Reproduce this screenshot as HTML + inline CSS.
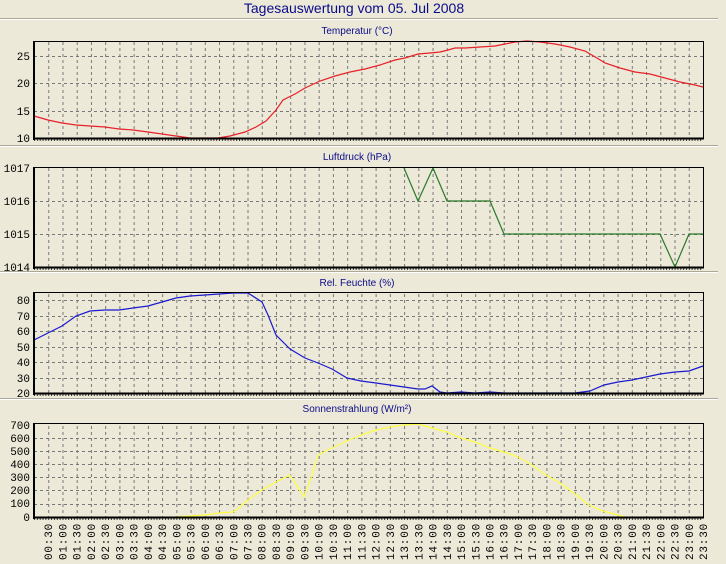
<!DOCTYPE html>
<html><head><meta charset="utf-8"><style>
html,body{margin:0;padding:0;background:#ece9d8;}
svg{display:block;}
.t{font-family:"Liberation Sans",sans-serif;fill:#0a0a8a;}
.y{font-family:"Liberation Mono",monospace;font-size:11px;fill:#000;text-anchor:end;}
.x{font-family:"Liberation Mono",monospace;font-size:11px;fill:#000;text-anchor:end;letter-spacing:0.8px;}
</style></head><body>
<svg width="726" height="564" xmlns="http://www.w3.org/2000/svg">
<defs>
<pattern id="vg" patternUnits="userSpaceOnUse" x="34" y="0" width="14.234" height="6">
<line x1="0.5" y1="0" x2="0.5" y2="3" stroke="#777" stroke-width="1"/>
</pattern>
<pattern id="tk" patternUnits="userSpaceOnUse" x="34" y="0" width="2.847" height="10">
<line x1="0.5" y1="0" x2="0.5" y2="10" stroke="#333" stroke-width="1"/>
</pattern>
</defs>
<rect width="726" height="564" fill="#ece9d8"/>
<text x="354" y="13" text-anchor="middle" class="t" font-size="14" fill="#1a1aa0">Tagesauswertung vom 05. Jul 2008</text>
<g stroke="#aca899"><line x1="0" y1="18.5" x2="718" y2="18.5"/><line x1="0" y1="145.5" x2="718" y2="145.5"/><line x1="0" y1="271.5" x2="718" y2="271.5"/><line x1="0" y1="398.5" x2="718" y2="398.5"/></g>
<g stroke="#fff"><line x1="0" y1="19.5" x2="718" y2="19.5"/><line x1="0" y1="146.5" x2="718" y2="146.5"/><line x1="0" y1="272.5" x2="718" y2="272.5"/><line x1="0" y1="399.5" x2="718" y2="399.5"/></g>

<!-- Panel 1 -->
<text x="357" y="34" text-anchor="middle" class="t" font-size="10">Temperatur (°C)</text>
<rect x="34" y="42" width="669" height="96" fill="url(#vg)"/>
<g stroke="#777" stroke-dasharray="3,3"><line x1="34" y1="56.5" x2="703" y2="56.5"/><line x1="34" y1="83.5" x2="703" y2="83.5"/><line x1="34" y1="111.5" x2="703" y2="111.5"/></g>
<rect x="34" y="139" width="669" height="2" fill="url(#tk)"/>
<polyline fill="none" stroke="#e8202a" stroke-width="1.2" points="34,116 48,120 62,123 76,125 90,126 105,127 119,129 133,130 148,132 162,134 176,136 190,138 218,138 230,136 245,132 256,127 266,121 276,110 283,100 295,94 305,88 320,81 335,76 350,72 365,69 380,65 395,60 405,58 418,54 430,53 440,52 448,50 455,48 465,48 480,47 495,46 505,44 515,42 527,41 540,42 555,44 570,47 585,51 597,58 605,63 620,68 635,72 650,74 665,78 680,82 695,85 703,87"/>
<rect x="34.5" y="41.5" width="669" height="97" fill="none" stroke="#000" stroke-width="1"/>
<line x1="33" y1="138.5" x2="704" y2="138.5" stroke="#000" stroke-width="2"/>
<line x1="34" y1="41" x2="34" y2="140" stroke="#000" stroke-width="2"/>
<text class="y" x="30" y="60">25</text><text class="y" x="30" y="87">20</text><text class="y" x="30" y="115">15</text><text class="y" x="30" y="142">10</text>

<!-- Panel 2 -->
<text x="357" y="160" text-anchor="middle" class="t" font-size="10">Luftdruck (hPa)</text>
<rect x="34" y="168" width="669" height="99" fill="url(#vg)"/>
<g stroke="#777" stroke-dasharray="3,3"><line x1="34" y1="201.5" x2="703" y2="201.5"/><line x1="34" y1="234.5" x2="703" y2="234.5"/></g>
<rect x="34" y="268" width="669" height="2" fill="url(#tk)"/>
<polyline fill="none" stroke="#2a7a2a" stroke-width="1.2" points="404,168 418,201 433,168 447,201 490,201 504,234 660,234 675,267 689,234 703,234"/>
<rect x="34.5" y="167.5" width="669" height="100" fill="none" stroke="#000" stroke-width="1"/>
<line x1="33" y1="267.5" x2="704" y2="267.5" stroke="#000" stroke-width="2"/>
<line x1="34" y1="167" x2="34" y2="269" stroke="#000" stroke-width="2"/>
<text class="y" x="30" y="172">1017</text><text class="y" x="30" y="205">1016</text><text class="y" x="30" y="238">1015</text><text class="y" x="30" y="271">1014</text>

<!-- Panel 3 -->
<text x="357" y="286" text-anchor="middle" class="t" font-size="10">Rel. Feuchte (%)</text>
<rect x="34" y="293" width="669" height="100" fill="url(#vg)"/>
<g stroke="#777" stroke-dasharray="3,3"><line x1="34" y1="300.5" x2="703" y2="300.5"/><line x1="34" y1="316.5" x2="703" y2="316.5"/><line x1="34" y1="331.5" x2="703" y2="331.5"/><line x1="34" y1="347.5" x2="703" y2="347.5"/><line x1="34" y1="362.5" x2="703" y2="362.5"/><line x1="34" y1="378.5" x2="703" y2="378.5"/></g>
<rect x="34" y="394" width="669" height="2" fill="url(#tk)"/>
<polyline fill="none" stroke="#1a1ad0" stroke-width="1.2" points="34,340 48,333 62,326 76,316 90,311 105,310 119,310 133,308 148,306 162,302 176,298 190,296 205,295 219,294 233,293 248,293 262,302 268,315 276,335 290,349 305,358 318,363 332,369 347,378 361,381 376,383 390,385 404,387 418,389 425,389 432,386 440,392 447,393 461,392 475,393 490,392 504,393 575,393 590,391 604,385 618,382 632,380 646,377 660,374 675,372 689,371 703,366"/>
<rect x="34.5" y="292.5" width="669" height="101" fill="none" stroke="#000" stroke-width="1"/>
<line x1="33" y1="393.5" x2="704" y2="393.5" stroke="#000" stroke-width="2"/>
<line x1="34" y1="292" x2="34" y2="395" stroke="#000" stroke-width="2"/>
<text class="y" x="30" y="304">80</text><text class="y" x="30" y="320">70</text><text class="y" x="30" y="335">60</text><text class="y" x="30" y="351">50</text><text class="y" x="30" y="366">40</text><text class="y" x="30" y="382">30</text><text class="y" x="30" y="397">20</text>

<!-- Panel 4 -->
<text x="357" y="412" text-anchor="middle" class="t" font-size="10">Sonnenstrahlung (W/m²)</text>
<rect x="34" y="424" width="669" height="93" fill="url(#vg)"/>
<g stroke="#777" stroke-dasharray="3,3"><line x1="34" y1="438.5" x2="703" y2="438.5"/><line x1="34" y1="451.5" x2="703" y2="451.5"/><line x1="34" y1="464.5" x2="703" y2="464.5"/><line x1="34" y1="477.5" x2="703" y2="477.5"/><line x1="34" y1="490.5" x2="703" y2="490.5"/><line x1="34" y1="504.5" x2="703" y2="504.5"/></g>
<rect x="34" y="518" width="669" height="2" fill="url(#tk)"/>
<polyline fill="none" stroke="#ffff40" stroke-width="1.2" points="176,517 190,516 205,515 219,513 233,512 240,507 248,500 262,490 276,482 290,475 297,486 304,497 311,478 318,455 332,448 347,441 361,435 376,430 390,427 404,425 418,424 432,428 447,432 461,438 475,442 490,448 504,452 518,457 532,465 546,475 560,483 575,494 589,505 603,511 618,515 625,517"/>
<rect x="34.5" y="423.5" width="669" height="94" fill="none" stroke="#000" stroke-width="1"/>
<line x1="33" y1="517.5" x2="704" y2="517.5" stroke="#000" stroke-width="2"/>
<line x1="34" y1="423" x2="34" y2="519" stroke="#000" stroke-width="2"/>
<text class="y" x="30" y="429">700</text><text class="y" x="30" y="442">600</text><text class="y" x="30" y="455">500</text><text class="y" x="30" y="468">400</text><text class="y" x="30" y="481">300</text><text class="y" x="30" y="494">200</text><text class="y" x="30" y="507">100</text><text class="y" x="30" y="521">0</text>

<g>
<text class="x" transform="translate(52.2,523) rotate(-90)">00:30</text>
<text class="x" transform="translate(66.5,523) rotate(-90)">01:00</text>
<text class="x" transform="translate(80.7,523) rotate(-90)">01:30</text>
<text class="x" transform="translate(94.9,523) rotate(-90)">02:00</text>
<text class="x" transform="translate(109.2,523) rotate(-90)">02:30</text>
<text class="x" transform="translate(123.4,523) rotate(-90)">03:00</text>
<text class="x" transform="translate(137.6,523) rotate(-90)">03:30</text>
<text class="x" transform="translate(151.9,523) rotate(-90)">04:00</text>
<text class="x" transform="translate(166.1,523) rotate(-90)">04:30</text>
<text class="x" transform="translate(180.3,523) rotate(-90)">05:00</text>
<text class="x" transform="translate(194.6,523) rotate(-90)">05:30</text>
<text class="x" transform="translate(208.8,523) rotate(-90)">06:00</text>
<text class="x" transform="translate(223.0,523) rotate(-90)">06:30</text>
<text class="x" transform="translate(237.3,523) rotate(-90)">07:00</text>
<text class="x" transform="translate(251.5,523) rotate(-90)">07:30</text>
<text class="x" transform="translate(265.7,523) rotate(-90)">08:00</text>
<text class="x" transform="translate(280.0,523) rotate(-90)">08:30</text>
<text class="x" transform="translate(294.2,523) rotate(-90)">09:00</text>
<text class="x" transform="translate(308.4,523) rotate(-90)">09:30</text>
<text class="x" transform="translate(322.7,523) rotate(-90)">10:00</text>
<text class="x" transform="translate(336.9,523) rotate(-90)">10:30</text>
<text class="x" transform="translate(351.1,523) rotate(-90)">11:00</text>
<text class="x" transform="translate(365.4,523) rotate(-90)">11:30</text>
<text class="x" transform="translate(379.6,523) rotate(-90)">12:00</text>
<text class="x" transform="translate(393.9,523) rotate(-90)">12:30</text>
<text class="x" transform="translate(408.1,523) rotate(-90)">13:00</text>
<text class="x" transform="translate(422.3,523) rotate(-90)">13:30</text>
<text class="x" transform="translate(436.6,523) rotate(-90)">14:00</text>
<text class="x" transform="translate(450.8,523) rotate(-90)">14:30</text>
<text class="x" transform="translate(465.0,523) rotate(-90)">15:00</text>
<text class="x" transform="translate(479.3,523) rotate(-90)">15:30</text>
<text class="x" transform="translate(493.5,523) rotate(-90)">16:00</text>
<text class="x" transform="translate(507.7,523) rotate(-90)">16:30</text>
<text class="x" transform="translate(522.0,523) rotate(-90)">17:00</text>
<text class="x" transform="translate(536.2,523) rotate(-90)">17:30</text>
<text class="x" transform="translate(550.4,523) rotate(-90)">18:00</text>
<text class="x" transform="translate(564.7,523) rotate(-90)">18:30</text>
<text class="x" transform="translate(578.9,523) rotate(-90)">19:00</text>
<text class="x" transform="translate(593.1,523) rotate(-90)">19:30</text>
<text class="x" transform="translate(607.4,523) rotate(-90)">20:00</text>
<text class="x" transform="translate(621.6,523) rotate(-90)">20:30</text>
<text class="x" transform="translate(635.8,523) rotate(-90)">21:00</text>
<text class="x" transform="translate(650.1,523) rotate(-90)">21:30</text>
<text class="x" transform="translate(664.3,523) rotate(-90)">22:00</text>
<text class="x" transform="translate(678.5,523) rotate(-90)">22:30</text>
<text class="x" transform="translate(692.8,523) rotate(-90)">23:00</text>
<text class="x" transform="translate(707.0,523) rotate(-90)">23:30</text>
</g>
</svg>
</body></html>
